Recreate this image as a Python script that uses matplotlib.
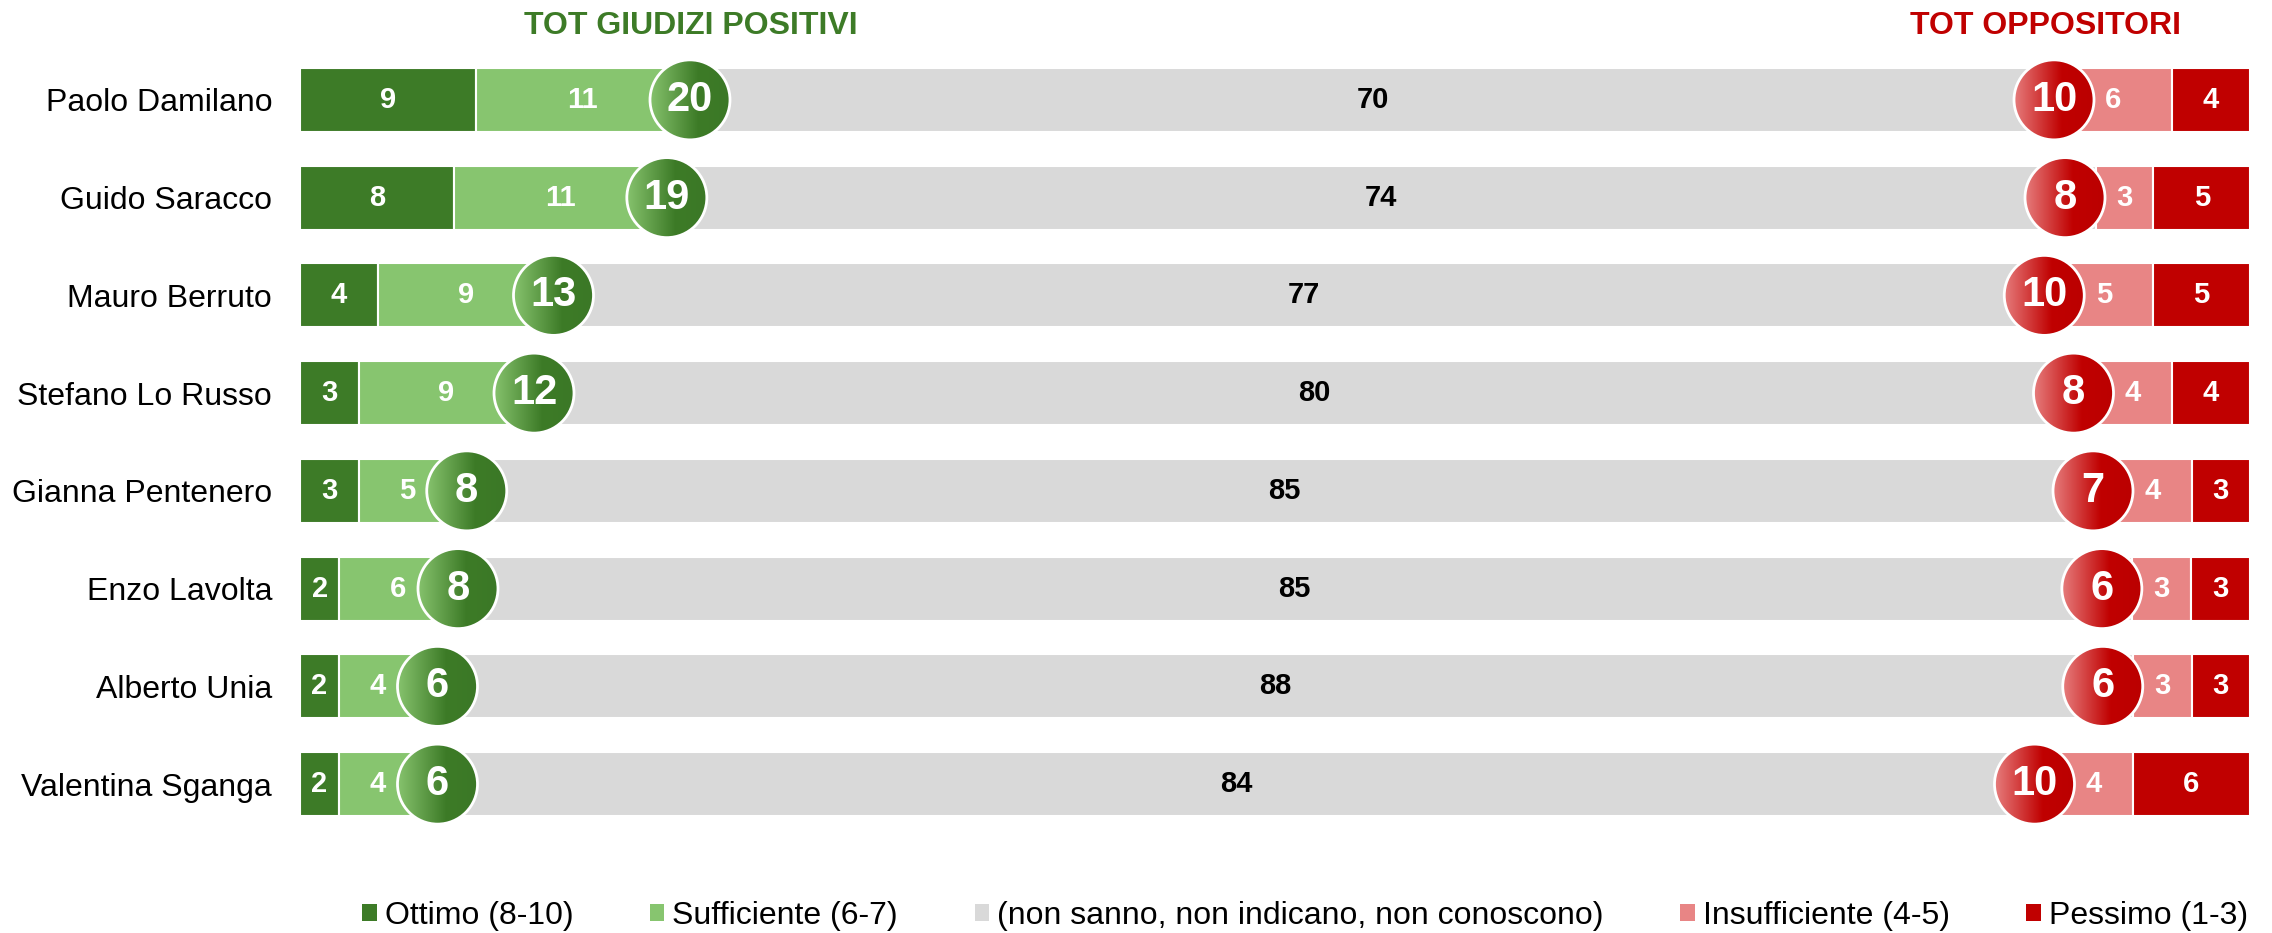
import numpy as np
import matplotlib
matplotlib.use("Agg")
import matplotlib.pyplot as plt
from matplotlib.patches import Ellipse, Patch
from matplotlib.colors import LinearSegmentedColormap

plt.rcParams['font.family'] = ['Liberation Sans', 'DejaVu Sans']

# data
names = ["Paolo Damilano", "Guido Saracco", "Mauro Berruto", "Stefano Lo Russo",
         "Gianna Pentenero", "Enzo Lavolta", "Alberto Unia", "Valentina Sganga"]
ottimo = [9, 8, 4, 3, 3, 2, 2, 2]
sufficiente = [11, 11, 9, 9, 5, 6, 4, 4]
non_sanno = [70, 74, 77, 80, 85, 85, 88, 84]
insufficiente = [6, 3, 5, 4, 4, 3, 3, 4]
pessimo = [4, 5, 5, 4, 3, 3, 3, 6]
tot_positivi = [20, 19, 13, 12, 8, 8, 6, 6]
tot_oppositori = [10, 8, 10, 8, 7, 6, 6, 10]

labels = ["Ottimo (8-10)", "Sufficiente (6-7)", "(non sanno, non indicano, non conoscono)",
          "Insufficiente (4-5)", "Pessimo (1-3)"]
colors = ["#3d7b27", "#87c56f", "#d9d9d9", "#e88585", "#c00000"]
txt_colors = ["white", "white", "black", "white", "white"]

W, H = 2272, 933
fig = plt.figure(figsize=(W / 100, H / 100), dpi=100)
ax = fig.add_axes([300 / W, 100 / H, 1950 / W, 782 / H])

series = np.array([ottimo, sufficiente, non_sanno, insufficiente, pessimo], dtype=float)
totals = series.sum(axis=0)
pct = series / totals * 100
y = np.arange(len(names))
bar_h = 0.655

left = np.zeros(len(names))
bounds = []
centers = []
for i in range(5):
    ax.barh(y, pct[i], left=left, height=bar_h, color=colors[i],
            edgecolor="white", linewidth=1.5, zorder=1)
    for j in range(len(names)):
        ax.text(left[j] + pct[i][j] / 2, y[j], str(int(series[i][j])),
                ha="center", va="center", fontsize=21, fontweight="bold",
                color=txt_colors[i], zorder=5)
    centers.append(left + pct[i] / 2)
    left = left + pct[i]
    bounds.append(left.copy())

ax.set_xlim(0, 100)
ax.set_ylim(len(names) - 0.5, -0.5)
ax.set_yticks(y)
ax.set_yticklabels(names, fontsize=23)
ax.tick_params(axis="y", length=0, pad=20)
ax.set_xticks([])
for s in ax.spines.values():
    s.set_visible(False)

# round gradient circles for the totals
px_x = 1950 / 100
px_y = 782 / len(names)
d = 80
cw, ch = d / px_x, d / px_y
gap = 1.0
cmap_g = LinearSegmentedColormap.from_list("g", [(0, "#86c26d"), (0.6, "#3d7b27"), (1, "#3b7826")])
cmap_r = LinearSegmentedColormap.from_list("r", [(0, "#e67c7c"), (0.6, "#c00000"), (1, "#bb0000")])
grad = np.linspace(0, 1, 256).reshape(1, -1)

def bubble(cx, cy, val, cmap):
    clip = Ellipse((cx, cy), cw, ch, transform=ax.transData, facecolor="none", edgecolor="none")
    ax.add_patch(clip)
    im = ax.imshow(grad, cmap=cmap, aspect="auto", zorder=3,
                   extent=[cx - cw / 2, cx + cw / 2, cy + ch / 2, cy - ch / 2])
    im.set_clip_path(clip)
    ax.add_patch(Ellipse((cx, cy), cw, ch, facecolor="none", edgecolor="white", lw=2, zorder=4))
    ax.text(cx, cy, str(val), ha="center", va="center", fontsize=30,
            fontweight="bold", color="white", zorder=5)

for j in range(len(names)):
    # keep the small segment labels clear of the circles
    gx = max(bounds[1][j], centers[1][j] + gap + cw / 2)
    rx = min(bounds[2][j], centers[3][j] - gap - cw / 2)
    bubble(gx, y[j], tot_positivi[j], cmap_g)
    bubble(rx, y[j], tot_oppositori[j], cmap_r)

ax.set_xlim(0, 100)
ax.set_ylim(len(names) - 0.5, -0.5)

fig.text(691 / W, 1 - 26 / H, "TOT GIUDIZI POSITIVI", ha="center", va="center",
         fontsize=23, fontweight="bold", color="#3d7b27")
fig.text(2045 / W, 1 - 26 / H, "TOT OPPOSITORI", ha="center", va="center",
         fontsize=23, fontweight="bold", color="#c00000")

handles = [Patch(facecolor=c, edgecolor="none") for c in colors]
fig.legend(handles, labels, loc="center", bbox_to_anchor=(1305 / W, 17 / H), ncol=5,
           frameon=False, fontsize=23, handlelength=0.45, handleheight=0.45,
           handletextpad=0.25, columnspacing=2.4)

fig.savefig("out.png", dpi=100)
